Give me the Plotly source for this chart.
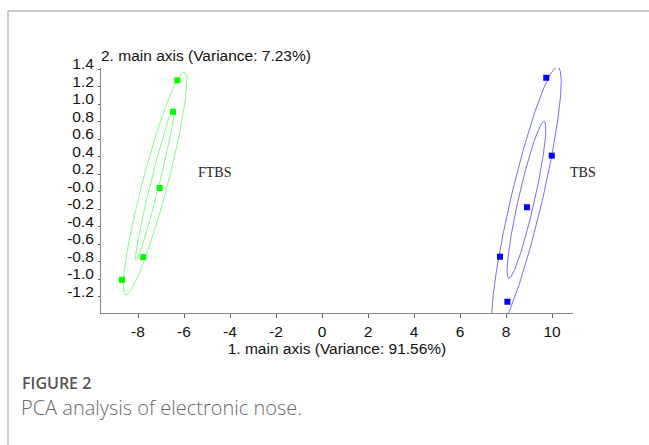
import numpy as np
import plotly.graph_objects as go

# ---------------- data ----------------
ftbs_x = [-6.29, -6.48, -7.06, -7.77, -8.70]
ftbs_y = [1.27, 0.91, 0.04, -0.75, -1.01]
tbs_x = [9.75, 9.99, 8.91, 7.74, 8.06]
tbs_y = [1.30, 0.41, -0.18, -0.745, -1.26]

# confidence ellipses: major half-axis vector (ux, uy) and horizontal half-width w (data units)
ftbs_outer = [1.26, 1.274, 0.56]
ftbs_inner = [0.825, 0.877, 0.196]
tbs_outer = [1.34, 1.518, 0.696]
tbs_inner = [0.762, 0.897, 0.36]

x_ticks = [-8, -6, -4, -2, 0, 2, 4, 6, 8, 10]
x_ticktext = ["-8", "-6", "-4", "-2", "0", "2", "4", "6", "8", "10"]
y_ticks = [1.4, 1.2, 1.0, 0.8, 0.6, 0.4, 0.2, 0.0, -0.2, -0.4, -0.6, -0.8, -1.0, -1.2]
y_ticktext = ["1.4", "1.2", "1.0", "0.8", "0.6", "0.4", "0.2", "-0.0", "-0.2",
              "-0.4", "-0.6", "-0.8", "-1.0", "-1.2"]

x_title = "1. main axis (Variance: 91.56%)"
y_title = "2. main axis (Variance: 7.23%)"
group_labels = ["FTBS", "TBS"]
fig_label = "FIGURE 2"
caption = "PCA analysis of electronic nose."

# ---------------- layout geometry ----------------
W, H = 649, 445
L, R, T, B = 101, 573, 68, 313  # plot area in pixels


def px(xp):
    return (xp - L) / (R - L)


def py(yp):
    return (B - yp) / (B - T)


def ellipse(xs, ys, par):
    cx, cy = np.mean(xs), np.mean(ys)
    ux, uy, w = par
    t = np.linspace(0, 2 * np.pi, 300)
    return cx + np.cos(t) * ux + np.sin(t) * w, cy + np.cos(t) * uy


fig = go.Figure()
green_line = "#7dff7d"
blue_line = "#6f6fff"
for xs, ys, pars, lc, mc in [
    (ftbs_x, ftbs_y, [ftbs_outer, ftbs_inner], green_line, "#00ff00"),
    (tbs_x, tbs_y, [tbs_outer, tbs_inner], blue_line, "#0000ff"),
]:
    for p in pars:
        ex, ey = ellipse(xs, ys, p)
        fig.add_trace(go.Scatter(x=ex, y=ey, mode="lines",
                                 line=dict(color=lc, width=1),
                                 hoverinfo="skip", showlegend=False))
    fig.add_trace(go.Scatter(x=xs, y=ys, mode="markers",
                             marker=dict(symbol="square", size=6, color=mc,
                                         line=dict(width=0)),
                             showlegend=False))

font_main = "Arial, Liberation Sans, sans-serif"
fs = 15.5

fig.update_layout(
    width=W, height=H,
    margin=dict(l=L, r=W - R, t=T, b=H - B, autoexpand=False),
    paper_bgcolor="white", plot_bgcolor="white",
    font=dict(family=font_main, size=fs, color="#111"),
    xaxis=dict(range=[(L - 322) / 23, (R - 322) / 23],
               tickvals=x_ticks, ticktext=x_ticktext,
               showgrid=False, zeroline=False,
               showline=True, linecolor="#888", linewidth=1,
               ticks="outside", ticklen=4, tickcolor="#666",
               tickfont=dict(size=fs, family=font_main, color="#111"),
               title=dict(text=x_title, standoff=1,
                          font=dict(size=fs, family=font_main, color="#111"))),
    yaxis=dict(range=[(191.5 - B) / 87.5, (191.5 - T) / 87.5],
               tickvals=y_ticks, ticktext=y_ticktext,
               showgrid=False, zeroline=False,
               showline=True, linecolor="#888", linewidth=1,
               ticks="outside", ticklen=2, tickcolor="#666",
               ticklabelshift=-5, ticklabelstandoff=1,
               tickfont=dict(size=fs, family=font_main, color="#111")),
)

# group labels
serif = "Liberation Serif, Times New Roman, serif"
fig.add_annotation(x=(196 - 322) / 23, y=(191.5 - 172) / 87.5, text=group_labels[0],
                   showarrow=False, xanchor="left", yanchor="middle",
                   font=dict(family=serif, size=14, color="#222"))
fig.add_annotation(x=(568 - 322) / 23, y=(191.5 - 172) / 87.5, text=group_labels[1],
                   showarrow=False, xanchor="left", yanchor="middle",
                   font=dict(family=serif, size=14, color="#222"))

# y-axis title (horizontal, top-left)
fig.add_annotation(xref="paper", yref="paper", x=px(99), y=py(55), text=y_title,
                   showarrow=False, xanchor="left", yanchor="middle",
                   font=dict(family=font_main, size=fs, color="#111"))

# caption
cap_font = "Open Sans, Lato, sans-serif"
fig.add_annotation(xref="paper", yref="paper", x=px(20), y=py(383), text=fig_label,
                   showarrow=False, xanchor="left", yanchor="middle",
                   font=dict(family=cap_font, size=16, color="#555", weight=600))
fig.add_annotation(xref="paper", yref="paper", x=px(19), y=py(407), text=caption,
                   showarrow=False, xanchor="left", yanchor="middle",
                   font=dict(family=cap_font, size=20, color="#6a6a6a", weight=300))

# frame lines of the figure box
fig.add_shape(type="line", xref="paper", yref="paper", x0=px(8), x1=px(660), y0=py(11), y1=py(11),
              line=dict(color="#999", width=1))
fig.add_shape(type="line", xref="paper", yref="paper", x0=px(8), x1=px(8), y0=py(11), y1=py(460),
              line=dict(color="#999", width=1))

fig.write_html("out.html")
